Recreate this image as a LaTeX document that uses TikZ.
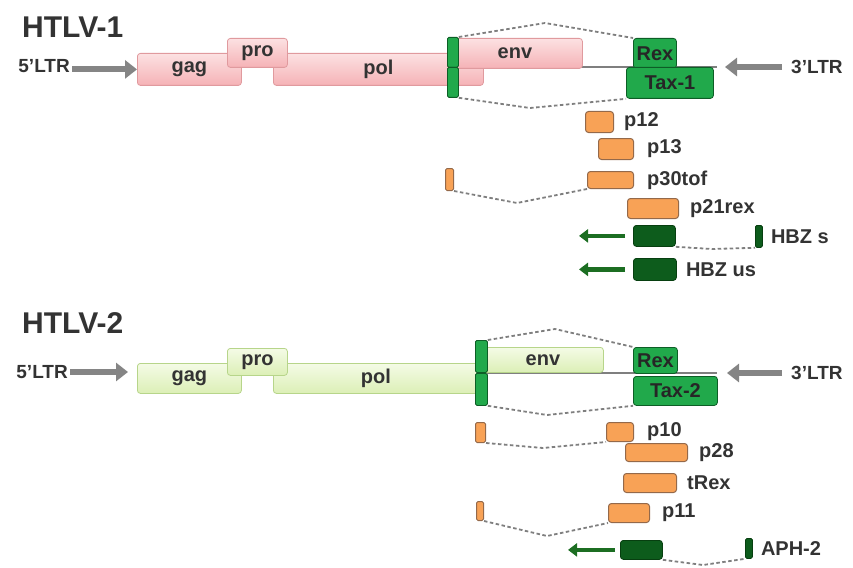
\documentclass[tikz,border=0pt]{standalone}
\usepackage{fontspec}
\setmainfont{Liberation Sans}
\usetikzlibrary{arrows.meta,positioning}

\definecolor{pinktop}{HTML}{FCE1E2}
\definecolor{pinkbot}{HTML}{F5B2B6}
\definecolor{pinkline}{HTML}{E09A9E}
\definecolor{limetop}{HTML}{F4FBE6}
\definecolor{limebot}{HTML}{DCEFB6}
\definecolor{limeline}{HTML}{B7D58A}
\definecolor{taxfill}{HTML}{21A94B}
\definecolor{taxline}{HTML}{0D5E26}
\definecolor{orffill}{HTML}{F8A256}
\definecolor{orfline}{HTML}{94694A}
\definecolor{hbzfill}{HTML}{0D5C1C}
\definecolor{hbzline}{HTML}{073F10}
\definecolor{asgreen}{HTML}{1C6E22}
\definecolor{arrgray}{HTML}{858585}
\definecolor{splicegray}{HTML}{7F7F7F}
\definecolor{txtgray}{HTML}{333333}

\begin{document}
\begin{tikzpicture}[
    x=1pt,y=-1pt,
    font=\fontsize{20}{22}\selectfont\bfseries,
    gene/.style={draw,rounded corners=3pt,anchor=north west,inner sep=0pt,
                 text=txtgray,line width=0.8pt},
    pinkgene/.style={gene,draw=pinkline,top color=pinktop,bottom color=pinkbot},
    limegene/.style={gene,draw=limeline,top color=limetop,bottom color=limebot},
    tax/.style={gene,draw=taxline,fill=taxfill,text=black!85},
    orf/.style={gene,draw=orfline,fill=orffill,line width=1pt},
    hbz/.style={gene,draw=hbzline,fill=hbzfill},
    exon/.style={gene,rounded corners=1.5pt,draw=taxline,fill=taxfill},
    lbl/.style={text=txtgray,inner sep=0pt},
    ltr/.style={lbl,font=\fontsize{19}{20}\selectfont\bfseries},
    title/.style={lbl,font=\fontsize{30}{32}\selectfont\bfseries},
    ltrarr/.style={-{Triangle[length=12pt,width=18pt]},line width=6pt,draw=arrgray},
    asarr/.style={-{Triangle[length=9pt,width=13pt]},line width=4.5pt,draw=asgreen},
    splice/.style={draw=splicegray,line width=1.8pt,dash pattern=on 3.5pt off 2.5pt},
    genome/.style={draw=splicegray,line width=1.5pt}
  ]
  \useasboundingbox (0,0) rectangle (853,567);

  % ---------------- HTLV-1
  \node[title,anchor=base west] (t1) at (22,38) {HTLV-1};
  \node[ltr,anchor=east] (ltr5a) at (70,66) {5'LTR};
  \coordinate (gend1) at (717,67);
  \draw[genome] (458,67) -- (gend1);
  \node[pinkgene,minimum width=104pt,minimum height=32pt] (gag1) at (137,53) {gag};
  \node[pinkgene,minimum width=210pt,minimum height=32pt] (pol1) at (273,53) {pol};
  \node[pinkgene,minimum width=60pt,minimum height=29pt] (pro1) at (227,38) {pro};
  \node[pinkgene,minimum width=135pt,minimum height=30pt] (env1) at (447,38) {env};
  \node[exon,minimum width=11pt,minimum height=30pt] (ex1u) at (447,37) {};
  \node[exon,minimum width=11pt,minimum height=30pt] (ex1d) at (447,67) {};
  \node[tax,minimum width=43pt,minimum height=30pt] (rex1) at (633,38) {Rex};
  \node[tax,minimum width=87pt,minimum height=31pt] (tax1) at (626,67) {Tax-1};
  \node[ltr,anchor=west] (ltr3a) at (791,67) {3'LTR};
  \draw[ltrarr,shorten <=2pt] (ltr5a.east |- gag1.west) -- (gag1.west);
  \draw[ltrarr,shorten <=9pt,shorten >=8pt] (ltr3a.west) -- (gend1);

  \coordinate (pk1) at (545,23);
  \coordinate (vl1) at (530,108);
  \draw[splice] (ex1u.north east) -- (pk1) -- (rex1.north west);
  \draw[splice] (ex1d.south east) -- (vl1) -- (tax1.south west);

  % accessory ORFs
  \node[orf,minimum width=28pt,minimum height=21pt] (p12) at (585,111) {};
  \node[lbl,right=10pt of p12] (p12l) {p12};
  \node[orf,minimum width=35pt,minimum height=21pt] (p13) at (598,138) {};
  \node[lbl,right=13pt of p13] (p13l) {p13};
  \node[orf,minimum width=8pt,minimum height=22pt,rounded corners=1.5pt] (x30) at (445,168) {};
  \node[orf,minimum width=46pt,minimum height=17pt] (p30) at (587,171) {};
  \node[lbl,right=13pt of p30] (p30l) {p30tof};
  \coordinate (dp30) at (517,203);
  \draw[splice] (x30.south east) -- (dp30) -- (p30.south west);
  \node[orf,minimum width=51pt,minimum height=20pt] (p21) at (627,198) {};
  \node[lbl,right=11pt of p21] (p21l) {p21rex};

  % antisense
  \node[hbz,minimum width=42pt,minimum height=21pt] (hbzs) at (633,225) {};
  \node[hbz,minimum width=7pt,minimum height=22pt,rounded corners=1.5pt] (hbzsx) at (755,225) {};
  \node[lbl,right=8pt of hbzsx] (hbzsl) {HBZ s};
  \coordinate (dhbz) at (712,249);
  \draw[splice] (hbzs.south east) -- (dhbz) -- (hbzsx.south west);
  \coordinate (hbzsend) at ([xshift=-54pt]hbzs.west);
  \draw[asarr,shorten <=8pt] (hbzs.west) -- (hbzsend);
  \node[hbz,minimum width=43pt,minimum height=22pt] (hbzus) at (633,258) {};
  \node[lbl,right=9pt of hbzus] (hbzusl) {HBZ us};
  \coordinate (hbzusend) at ([xshift=-54pt]hbzus.west);
  \draw[asarr,shorten <=8pt] (hbzus.west) -- (hbzusend);

  % ---------------- HTLV-2
  \node[title,anchor=base west] (t2) at (22,333) {HTLV-2};
  \node[ltr,anchor=east] (ltr5b) at (68,372) {5'LTR};
  \coordinate (gend2) at (717,373);
  \draw[genome] (487,373) -- (gend2);
  \node[limegene,minimum width=104pt,minimum height=30pt] (gag2) at (137,363) {gag};
  \node[limegene,minimum width=205pt,minimum height=30pt] (pol2) at (273,363) {pol};
  \node[limegene,minimum width=60pt,minimum height=27pt] (pro2) at (227,348) {pro};
  \node[limegene,minimum width=121pt,minimum height=25pt] (env2) at (482,347) {env};
  \node[exon,minimum width=12pt,minimum height=32pt] (ex2u) at (475,340) {};
  \node[exon,minimum width=12pt,minimum height=32pt] (ex2d) at (475,373) {};
  \node[tax,minimum width=44pt,minimum height=26pt] (rex2) at (633,347) {Rex};
  \node[tax,minimum width=84pt,minimum height=29pt] (tax2) at (633,376) {Tax-2};
  \node[ltr,anchor=west] (ltr3b) at (791,373) {3'LTR};
  \coordinate (ltr5bend) at (ltr5b.east -| gag2.west);
  \draw[ltrarr,shorten <=2pt,shorten >=9pt] (ltr5b.east) -- (ltr5bend);
  \draw[ltrarr,shorten <=9pt,shorten >=10pt] (ltr3b.west) -- (gend2);

  \coordinate (pk2) at (555,329);
  \coordinate (vl2) at (547,415);
  \draw[splice] (ex2u.north east) -- (pk2) -- (rex2.north west);
  \draw[splice] (ex2d.south east) -- (vl2) -- (tax2.south west);

  % accessory ORFs
  \node[orf,minimum width=10pt,minimum height=20pt,rounded corners=1.5pt] (x10) at (475,422) {};
  \node[orf,minimum width=27pt,minimum height=19pt] (p10) at (606,422) {};
  \node[lbl,right=13pt of p10] (p10l) {p10};
  \coordinate (dp10) at (543,448);
  \draw[splice] (x10.south east) -- (dp10) -- (p10.south west);
  \node[orf,minimum width=62pt,minimum height=18pt] (p28) at (625,443) {};
  \node[lbl,right=11pt of p28] (p28l) {p28};
  \node[orf,minimum width=53pt,minimum height=19pt] (trex) at (623,473) {};
  \node[lbl,right=10pt of trex] (trexl) {tRex};
  \node[orf,minimum width=7pt,minimum height=19pt,rounded corners=1.5pt] (x11) at (476,501) {};
  \node[orf,minimum width=41pt,minimum height=19pt] (p11) at (608,503) {};
  \node[lbl,right=12pt of p11] (p11l) {p11};
  \coordinate (dp11) at (547,536);
  \draw[splice] (x11.south east) -- (dp11) -- (p11.south west);

  % antisense
  \node[hbz,minimum width=42pt,minimum height=19pt] (aph) at (620,540) {};
  \node[hbz,minimum width=7pt,minimum height=20pt,rounded corners=1.5pt] (aphx) at (745,538) {};
  \node[lbl,right=8pt of aphx] (aphl) {APH-2};
  \coordinate (daph) at (703,565);
  \draw[splice] (aph.south east) -- (daph) -- (aphx.south west);
  \coordinate (aphend) at ([xshift=-52pt]aph.west);
  \draw[asarr,shorten <=5pt] (aph.west) -- (aphend);
\end{tikzpicture}
\end{document}
